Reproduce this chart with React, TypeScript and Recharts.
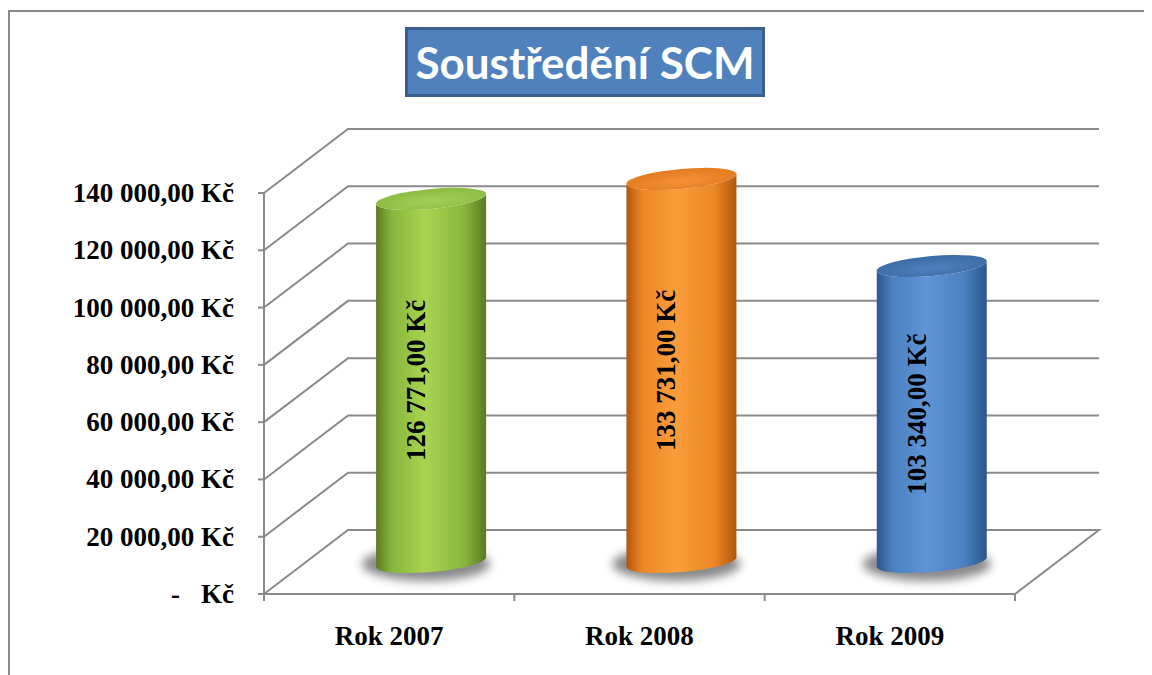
import { Bar, BarChart, CartesianGrid, LabelList, XAxis, YAxis } from "recharts";

// Soustředění SCM – částky po letech
const categories = ["Rok 2007", "Rok 2008", "Rok 2009"];
const amounts = [126771, 133731, 103340];
const yTicks = [0, 20000, 40000, 60000, 80000, 100000, 120000, 140000];

const data = categories.map((rok, i) => ({ rok, amount: amounts[i] }));

// 3D depth of the Excel-style wall (back plane offset)
const DX = 84;
const DY = 64;
const GRID = "#8a8a8a";
const SERIF = "'Liberation Serif', 'Times New Roman', serif";

const palette = [
  { dark: "#5b7a22", mid: "#88b63d", light: "#a8d450", top: "#8cbb42", topLight: "#a3cf55" },
  { dark: "#b0560c", mid: "#ec8726", light: "#fb9c3b", top: "#e27a1d", topLight: "#f4913a" },
  { dark: "#2a578c", mid: "#4a7fc0", light: "#5f95d6", top: "#3b6ba5", topLight: "#4d80bd" },
];

const fmtKc = (v: number) => {
  const [int, dec] = v.toFixed(2).split(".");
  return `${int.replace(/\B(?=(\d{3})+(?!\d))/g, " ")},${dec} Kč`;
};

function Cylinder(props: any) {
  const { x, y, width, height, index } = props;
  const c = palette[index % palette.length];
  const left = x + DX / 2;
  const right = left + width;
  const cx = left + width / 2;
  const top = y - DY / 2;
  const bottom = y + height - DY / 2;
  const rx = width / 2;
  const ry = 10;
  const id = `cyl-${index}`;
  const body = `M${left},${top} L${left},${bottom} A${rx},${ry} 0 0 0 ${right},${bottom} L${right},${top} A${rx},${ry} 0 0 1 ${left},${top} Z`;
  return (
    <g>
      <defs>
        <linearGradient id={`${id}-body`} x1="0" y1="0" x2="1" y2="0">
          <stop offset="0%" stopColor={c.dark} />
          <stop offset="14%" stopColor={c.mid} />
          <stop offset="45%" stopColor={c.light} />
          <stop offset="80%" stopColor={c.mid} />
          <stop offset="100%" stopColor={c.dark} />
        </linearGradient>
        <radialGradient id={`${id}-top`} cx="0.5" cy="0.6" r="0.6">
          <stop offset="0%" stopColor={c.topLight} />
          <stop offset="100%" stopColor={c.top} />
        </radialGradient>
        <filter id={`${id}-shadow`} x="-30%" y="-100%" width="160%" height="300%">
          <feGaussianBlur stdDeviation="5" />
        </filter>
      </defs>
      <ellipse
        cx={cx - 5}
        cy={bottom + 2}
        rx={rx + 9}
        ry={ry + 7}
        fill="#3c3c3c"
        opacity={0.6}
        filter={`url(#${id}-shadow)`}
      />
      <g transform={`translate(${cx},0) skewY(-5) translate(${-cx},0)`}>
        <path d={body} fill={`url(#${id}-body)`} />
        <ellipse cx={cx} cy={top} rx={rx} ry={ry} fill={`url(#${id}-top)`} />
      </g>
    </g>
  );
}

function ValueLabel(props: any) {
  const { x, y, width, height, value } = props;
  const lx = x + width / 2 + DX / 2 - 15;
  const ly = y + height / 2 - DY / 2;
  return (
    <text
      x={lx}
      y={ly}
      transform={`rotate(-90 ${lx} ${ly})`}
      textAnchor="middle"
      dominantBaseline="central"
      fontFamily={SERIF}
      fontWeight="bold"
      fontSize={27}
      fill="#000"
    >
      {fmtKc(Number(value))}
    </text>
  );
}

function WallLine(props: any) {
  const { x1, y1, x2, y, height } = props;
  const isFloor = Math.abs(y1 - (y + height)) < 1;
  const pts = isFloor
    ? `${x1},${y1} ${x1 + DX},${y1 - DY} ${x2 + DX},${y1 - DY} ${x2},${y1}`
    : `${x1},${y1} ${x1 + DX},${y1 - DY} ${x2 + DX},${y1 - DY}`;
  return <polyline key={props.index} points={pts} fill="none" stroke={GRID} strokeWidth={2} />;
}

function YTick(props: any) {
  const { x, y, payload } = props;
  const v = payload.value as number;
  if (v === 0) {
    return (
      <g fontFamily={SERIF} fontWeight="bold" fontSize={27} fill="#000">
        <text x={x} y={y} textAnchor="end" dominantBaseline="central">Kč</text>
        <text x={x - 54} y={y} textAnchor="end" dominantBaseline="central">-</text>
      </g>
    );
  }
  return (
    <text x={x} y={y} textAnchor="end" dominantBaseline="central" fontFamily={SERIF} fontWeight="bold" fontSize={27} fill="#000">
      {fmtKc(v)}
    </text>
  );
}

function XTick(props: any) {
  const { x, y, payload, index, width, visibleTicksCount } = props;
  const half = width / (visibleTicksCount || categories.length) / 2;
  const axisY = y - 8;
  return (
    <g>
      <line x1={x - half} y1={axisY} x2={x - half} y2={axisY + 7} stroke={GRID} strokeWidth={2} />
      {index === categories.length - 1 && (
        <line x1={x + half} y1={axisY} x2={x + half} y2={axisY + 7} stroke={GRID} strokeWidth={2} />
      )}
      <text x={x} y={axisY + 42} textAnchor="middle" dominantBaseline="central" fontFamily={SERIF} fontWeight="bold" fontSize={27} fill="#000">
        {payload.value}
      </text>
    </g>
  );
}

export default function App() {
  return (
    <div style={{ position: "relative", width: 1144, height: 667, overflow: "hidden", background: "#fff" }}>
      <div
        style={{
          position: "absolute",
          left: 0,
          top: 2,
          width: 1200,
          height: 720,
          border: `2px solid ${GRID}`,
          boxSizing: "border-box",
        }}
      />
      <BarChart
        width={1144}
        height={667}
        data={data}
        margin={{ top: 185, right: 137, bottom: 21, left: 0 }}
        barCategoryGap="28%"
        style={{ position: "absolute", left: 0, top: 0 }}
      >
        <CartesianGrid horizontal={WallLine} vertical={false} />
        <XAxis
          dataKey="rok"
          height={60}
          axisLine={{ stroke: GRID, strokeWidth: 2 }}
          tickLine={false}
          tick={<XTick />}
          interval={0}
        />
        <YAxis
          width={256}
          domain={[0, 140000]}
          ticks={yTicks}
          axisLine={{ stroke: GRID, strokeWidth: 2 }}
          tickLine={{ stroke: GRID, strokeWidth: 2 }}
          tickSize={6}
          tickMargin={24}
          tick={<YTick />}
        />
        <Bar dataKey="amount" shape={<Cylinder />} isAnimationActive={false}>
          <LabelList dataKey="amount" content={<ValueLabel />} />
        </Bar>
      </BarChart>
      <div
        style={{
          position: "absolute",
          left: 397,
          top: 19,
          width: 360,
          height: 70,
          background: "#4f81bd",
          border: "3px solid #3a5f8d",
          boxSizing: "border-box",
          display: "flex",
          alignItems: "center",
          justifyContent: "center",
          color: "#fff",
          fontFamily: "Lato, 'Open Sans', sans-serif",
          fontWeight: 700,
          fontSize: 44,
          whiteSpace: "nowrap",
        }}
      >
        Soustředění SCM
      </div>
    </div>
  );
}
